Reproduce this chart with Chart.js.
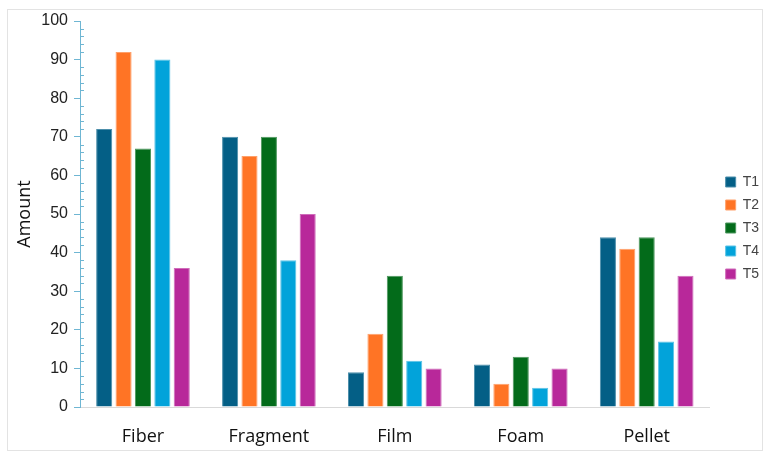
<!DOCTYPE html>
<html>
<head>
<meta charset="utf-8">
<script src="https://cdn.jsdelivr.net/npm/chart.js@4.4.1/dist/chart.umd.min.js"></script>
<style>
    body { margin: 0; background: #fff; }
    #frame { position: absolute; left: 7px; top: 9px; width: 754px; height: 440px; border: 1px solid #e3e3e3; }
    #wrap { position: absolute; left: 0; top: 0; width: 769px; height: 459px; }
</style>
</head>
<body>
<div id="frame"></div>
<div id="wrap"><canvas id="myChart" width="769" height="459"></canvas></div>
<script>
const categories = ['Fiber', 'Fragment', 'Film', 'Foam', 'Pellet'];
const t1 = [72, 70, 9, 11, 44];
const t2 = [92, 65, 19, 6, 41];
const t3 = [67, 70, 34, 13, 44];
const t4 = [90, 38, 12, 5, 17];
const t5 = [36, 50, 10, 10, 34];
const seriesNames = ['T1', 'T2', 'T3', 'T4', 'T5'];
const colors = ['#045f86', '#ff7425', '#036b1a', '#02a3da', '#b8289a'];
const edgeColors = ['#4d8fab', '#ffa06a', '#4d975e', '#5cc3e6', '#cf6cba'];

const data = {
    labels: categories,
    datasets: [t1, t2, t3, t4, t5].map((vals, i) => ({
        label: seriesNames[i],
        data: vals,
        backgroundColor: colors[i],
        borderColor: edgeColors[i],
        borderWidth: 1,
        categoryPercentage: 0.77,
        barPercentage: 0.83
    }))
};

// small ticks between the labelled ones (every 2 units), right side of the axis
const minorTicks = {
    id: 'minorTicks',
    afterDraw(chart) {
        const y = chart.scales.y;
        const ctx = chart.ctx;
        ctx.save();
        ctx.strokeStyle = '#6fb6d3';
        ctx.lineWidth = 1;
        for (let v = 0; v <= 100; v += 2) {
            if (v % 10 === 0) continue;
            const py = Math.round(y.getPixelForValue(v)) + 0.5;
            ctx.beginPath();
            ctx.moveTo(y.right, py);
            ctx.lineTo(y.right + 4, py);
            ctx.stroke();
        }
        ctx.restore();
    }
};

const config = {
    type: 'bar',
    data: data,
    options: {
        responsive: false,
        animation: false,
        layout: { padding: { top: 21, right: 0, bottom: 8, left: 10 } },
        plugins: {
            legend: {
                position: 'right',
                align: 'start',
                // empty title only used as a spacer above the items
                title: {
                    display: true,
                    text: '',
                    font: { size: 10, lineHeight: 1 },
                    padding: { top: 135, bottom: 0 }
                },
                labels: {
                    boxWidth: 10,
                    boxHeight: 10,
                    padding: 9,
                    color: '#444',
                    font: { family: 'Liberation Sans', size: 14 }
                }
            },
            tooltip: { enabled: false }
        },
        scales: {
            x: {
                grid: { display: false },
                border: { color: '#d9d9d9' },
                ticks: {
                    color: '#111',
                    padding: 11,
                    font: { family: 'Open Sans', size: 18 }
                },
                afterFit(scale) { scale.height = 44; }
            },
            y: {
                min: 0,
                max: 100,
                title: {
                    display: true,
                    text: 'Amount',
                    color: '#111',
                    font: { family: 'Open Sans', size: 18 }
                },
                border: { color: '#6fb6d3' },
                grid: {
                    drawOnChartArea: false,
                    tickLength: 6,
                    tickColor: '#6fb6d3'
                },
                ticks: {
                    stepSize: 10,
                    color: '#222',
                    padding: 6,
                    font: { family: 'Liberation Sans', size: 16 }
                },
                afterFit(scale) { scale.width = 70; }
            },
            // empty spacer between plot and legend
            gap: {
                position: 'right',
                grid: { display: false },
                border: { display: false },
                ticks: { display: false },
                afterFit(scale) { scale.width = 7; }
            }
        }
    },
    plugins: [minorTicks]
};
new Chart(
    document.getElementById('myChart'),
    config
);
</script>
</body>
</html>
